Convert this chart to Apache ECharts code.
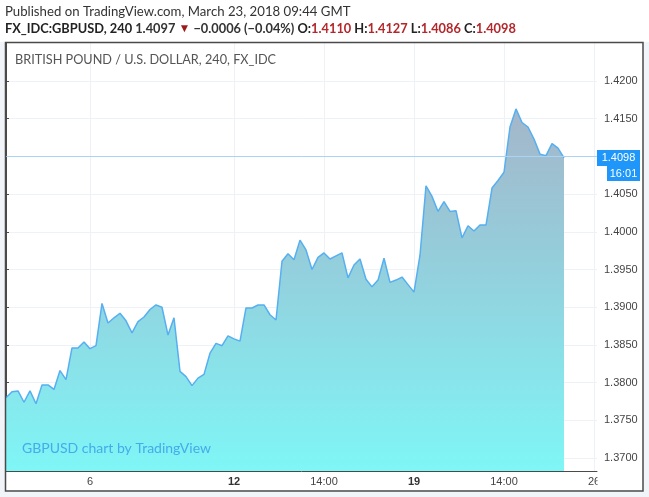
<!DOCTYPE html>
<html>
<head>
<meta charset="utf-8">
<script src="https://cdn.jsdelivr.net/npm/echarts@6/dist/echarts.min.js"></script>
<style>
  html, body { margin: 0; padding: 0; background: #f1f4f9; }
  #chart { width: 649px; height: 497px; }
</style>
</head>
<body>
<div id="chart"></div>
<script>
// GBPUSD 4h closes, Mar 1 - Mar 23 2018
const closes = [
  1.3780, 1.3788, 1.3789, 1.3774, 1.3789, 1.3772, 1.3797, 1.3797, 1.3791, 1.3816,
  1.3804, 1.3846, 1.3846, 1.3854, 1.3845, 1.3849, 1.3905, 1.3879, 1.3886, 1.3892,
  1.3882, 1.3866, 1.3881, 1.3887, 1.3897, 1.3903, 1.3900, 1.3863, 1.3886, 1.3815,
  1.3808, 1.3796, 1.3806, 1.3811, 1.3839, 1.3852, 1.3849, 1.3862, 1.3858, 1.3855,
  1.3899, 1.3899, 1.3903, 1.3903, 1.3890, 1.3883, 1.3961, 1.3971, 1.3963, 1.3989,
  1.3976, 1.3950, 1.3966, 1.3972, 1.3964, 1.3968, 1.3972, 1.3939, 1.3956, 1.3964,
  1.3937, 1.3927, 1.3936, 1.3965, 1.3933, 1.3936, 1.3940, 1.3930, 1.3920, 1.3969,
  1.4061, 1.4047, 1.4027, 1.4040, 1.4027, 1.4028, 1.3992, 1.4008, 1.4001, 1.4009,
  1.4009, 1.4058, 1.4068, 1.4079, 1.4139, 1.4163, 1.4145, 1.4139, 1.4123, 1.4103,
  1.4101, 1.4117, 1.4111, 1.4098
];

// x ticks are bar indexes
const tickPos = [14, 38, 53, 68, 83, 98];
const tickText = ['6', '12', '14:00', '19', '14:00', '26'];
const boldTicks = ['12', '19'];
const priceTicks = [1.37, 1.375, 1.38, 1.385, 1.39, 1.395, 1.40, 1.405, 1.41, 1.415, 1.42];

const lastPrice = 1.4098;
const lastTime = '16:01';
const header = 'Published on TradingView.com, March 23, 2018 09:44 GMT';
const symbolTitle = 'BRITISH POUND / U.S. DOLLAR, 240, FX_IDC';
const ohlc = { O: '1.4110', H: '1.4127', L: '1.4086', C: '1.4098' };

const chart = echarts.init(document.getElementById('chart'));
const lineColor = '#56aff0';
const red = '#b3262a';

chart.setOption({
  animation: false,
  title: [
    {
      text: header, left: 5, top: 5, padding: 0,
      textStyle: { fontSize: 13.2, fontWeight: 'normal', color: '#333', fontFamily: 'Lato' }
    },
    {
      text: '{b|FX_IDC:GBPUSD, 240} {n|1.4097} {t|▼} {n|−0.0006 (−0.04%)} ' +
        ['O', 'H', 'L', 'C'].map(k => '{b|' + k + ':}{r|' + ohlc[k] + '}').join(' '),
      left: 5, top: 22, padding: 0,
      textStyle: {
        fontSize: 12.8, fontFamily: 'Lato',
        rich: {
          b: { fontWeight: 'bold', color: '#222', fontSize: 12.8, fontFamily: 'Lato' },
          n: { color: '#333', fontSize: 12.8, fontFamily: 'Lato' },
          r: { color: red, fontSize: 12.8, fontFamily: 'Lato' },
          t: { color: '#9b1b1b', fontSize: 12 }
        }
      }
    },
    {
      text: symbolTitle, left: 15, top: 53, padding: 0,
      textStyle: { fontSize: 12.7, fontWeight: 'normal', color: '#555', fontFamily: 'Lato' }
    },
    {
      text: 'GBPUSD chart by TradingView', left: 22, top: 441, padding: 0,
      textStyle: { fontSize: 14, fontWeight: 'normal', color: '#45abea', fontFamily: 'Lato' }
    }
  ],
  grid: { left: 6, right: 52, top: 43, bottom: 26 },
  xAxis: {
    type: 'value',
    min: 0,
    max: 98.5,
    axisLine: { show: true, lineStyle: { color: '#4a4a4a', width: 1 } },
    axisTick: { show: false, customValues: tickPos },
    axisLabel: {
      customValues: tickPos,
      margin: 5,
      fontSize: 11,
      color: '#444',
      fontFamily: 'Liberation Sans',
      formatter: v => {
        const t = tickText[tickPos.indexOf(v)];
        return boldTicks.includes(t) ? '{bold|' + t + '}' : t;
      },
      rich: { bold: { fontWeight: 'bold', fontSize: 11, color: '#333', fontFamily: 'Liberation Sans' } }
    },
    splitLine: { show: true, lineStyle: { color: '#eef1f6', width: 1 } }
  },
  yAxis: {
    type: 'value',
    position: 'right',
    min: 1.36828,
    max: 1.42504,
    axisLine: { show: true, lineStyle: { color: '#4a4a4a', width: 1 } },
    axisTick: { show: true, length: 3, customValues: priceTicks, lineStyle: { color: '#4a4a4a' } },
    axisLabel: {
      customValues: priceTicks,
      margin: 7,
      fontSize: 11,
      color: '#444',
      fontFamily: 'Liberation Sans',
      formatter: v => v.toFixed(4)
    },
    splitLine: { show: true, lineStyle: { color: '#eef1f6', width: 1 } }
  },
  series: [{
    type: 'line',
    data: closes.map((v, i) => [i, v]),
    showSymbol: false,
    lineStyle: { color: lineColor, width: 1.5 },
    areaStyle: {
      opacity: 1,
      color: new echarts.graphic.LinearGradient(0, 0, 0, 1, [
        { offset: 0, color: '#a4b6c9' },
        { offset: 0.45, color: '#93d0dd' },
        { offset: 1, color: '#7ff6f6' }
      ])
    },
    markLine: {
      silent: true,
      symbol: ['none', 'none'],
      label: { show: false },
      lineStyle: { color: '#a9d4f3', type: 'solid', width: 1 },
      data: [{ yAxis: lastPrice }]
    },
    z: 3
  }]
});

// frame, backgrounds and last-price boxes placed via the axis scale
const py = chart.convertToPixel({ yAxisIndex: 0 }, lastPrice);
chart.setOption({
  graphic: [
    { type: 'rect', z: -10, shape: { x: 0, y: 0, width: 649, height: 42 }, style: { fill: '#fff' } },
    { type: 'rect', z: -10, shape: { x: 5, y: 42, width: 638, height: 449 }, style: { fill: '#fff' } },
    { type: 'rect', z: 50, shape: { x: 597.5, y: 472, width: 45, height: 18 }, style: { fill: '#fff' } },
    { type: 'rect', z: 60, shape: { x: 5.5, y: 42.5, width: 637.5, height: 448.5 },
      style: { fill: 'none', stroke: '#4a4a4a', lineWidth: 1.5 } },
    { type: 'rect', z: 70, shape: { x: 597, y: Math.round(py) - 8, width: 43, height: 16 }, style: { fill: '#1e96fa' } },
    { type: 'text', z: 71, x: 618.5, y: Math.round(py),
      style: { text: lastPrice.toFixed(4), fill: '#fff', font: '11px "Liberation Sans"', align: 'center', verticalAlign: 'middle' } },
    { type: 'rect', z: 70, shape: { x: 607, y: Math.round(py) + 8, width: 33, height: 15 }, style: { fill: '#1e96fa' } },
    { type: 'text', z: 71, x: 623.5, y: Math.round(py) + 15.5,
      style: { text: lastTime, fill: '#fff', font: '11px "Liberation Sans"', align: 'center', verticalAlign: 'middle' } }
  ]
});
</script>
</body>
</html>
